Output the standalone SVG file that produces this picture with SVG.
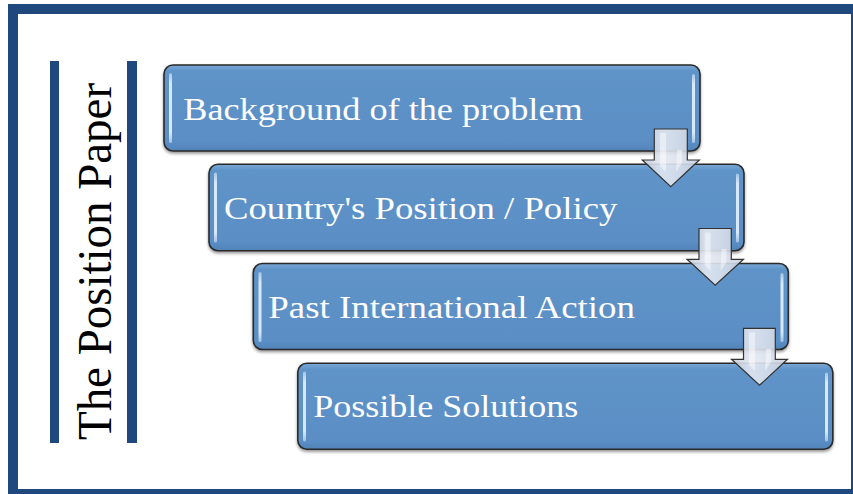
<svg xmlns="http://www.w3.org/2000/svg" width="853" height="494" viewBox="0 0 853 494">
  <defs>
    <style>
      .frame { fill: none; stroke: #1f497d; stroke-width: 10; }
      .bar { fill: #1f497d; }
      .title { font-family: "Liberation Serif", "DejaVu Serif", serif; font-size: 48px; fill: #000000; }
      .box { fill: url(#boxFill); stroke: #2a2a2a; stroke-width: 1.6; filter: url(#shadow); }
      .gloss { fill: url(#glossFill); }
      .label { font-family: "Liberation Serif", "DejaVu Serif", serif; font-size: 32px; fill: #ffffff; }
      .arrow { fill: url(#arrowFill); fill-opacity: 0.9; stroke: #333333; stroke-width: 1.2; stroke-linejoin: miter; }
      .arrow-shine { fill: #ffffff; fill-opacity: 0.45; }
    </style>
    <linearGradient id="boxFill" x1="0" y1="0" x2="0" y2="1">
      <stop offset="0" stop-color="#7aa8d6"/>
      <stop offset="0.07" stop-color="#5f94c9"/>
      <stop offset="0.9" stop-color="#5a8ec4"/>
      <stop offset="1" stop-color="#5083b9"/>
    </linearGradient>
    <linearGradient id="glossFill" x1="0" y1="0" x2="0" y2="1">
      <stop offset="0" stop-color="#e8f2fc" stop-opacity="0.5"/>
      <stop offset="0.15" stop-color="#d6e8fa"/>
      <stop offset="0.85" stop-color="#d6e8fa"/>
      <stop offset="1" stop-color="#e8f2fc" stop-opacity="0.5"/>
    </linearGradient>
    <linearGradient id="arrowFill" x1="0" y1="0" x2="1" y2="0">
      <stop offset="0" stop-color="#c3ccdc"/>
      <stop offset="0.35" stop-color="#e3e8f1"/>
      <stop offset="0.55" stop-color="#dde3ee"/>
      <stop offset="1" stop-color="#c7d0df"/>
    </linearGradient>
    <filter id="shadow" x="-5%" y="-10%" width="110%" height="125%">
      <feDropShadow dx="0" dy="2" stdDeviation="1.8" flood-color="#000000" flood-opacity="0.4"/>
    </filter>
  </defs>

  <!-- page frame -->
  <rect class="frame" x="13" y="9" width="843" height="485"/>

  <!-- vertical title between two rules -->
  <g id="title">
    <rect class="bar" x="50" y="61" width="9" height="382"/>
    <rect class="bar" x="127" y="61" width="10" height="382"/>
    <text class="title" transform="translate(111,440) rotate(-90)" x="0" y="0" textLength="357" lengthAdjust="spacingAndGlyphs">The Position Paper</text>
  </g>

  <!-- step boxes -->
  <g id="step1">
    <rect class="box" x="164" y="65" width="536" height="86" rx="9" ry="9"/>
    <rect class="gloss" x="169" y="73" width="3" height="70" rx="1.5"/>
    <rect class="gloss" x="692" y="74" width="3" height="69" rx="1.5"/>
    <text class="label" x="183.3" y="119.5" textLength="399.4" lengthAdjust="spacingAndGlyphs">Background of the problem</text>
  </g>
  <g id="step2">
    <rect class="box" x="209" y="164.3" width="535" height="86.5" rx="9" ry="9"/>
    <rect class="gloss" x="214" y="172.5" width="3" height="70" rx="1.5"/>
    <rect class="gloss" x="736" y="173.5" width="3" height="69" rx="1.5"/>
    <text class="label" x="224" y="218.5" textLength="393.3" lengthAdjust="spacingAndGlyphs">Country's Position / Policy</text>
  </g>
  <g id="step3">
    <rect class="box" x="253.3" y="263.5" width="535" height="86" rx="9" ry="9"/>
    <rect class="gloss" x="258.5" y="272" width="3" height="70" rx="1.5"/>
    <rect class="gloss" x="780.5" y="273" width="3" height="69" rx="1.5"/>
    <text class="label" x="268.3" y="318.3" textLength="366.7" lengthAdjust="spacingAndGlyphs">Past International Action</text>
  </g>
  <g id="step4">
    <rect class="box" x="297.8" y="363.3" width="535" height="86" rx="9" ry="9"/>
    <rect class="gloss" x="303" y="371.5" width="3" height="70" rx="1.5"/>
    <rect class="gloss" x="825" y="372.5" width="3" height="69" rx="1.5"/>
    <text class="label" x="313.3" y="417" textLength="265" lengthAdjust="spacingAndGlyphs">Possible Solutions</text>
  </g>

  <!-- down arrows linking the steps -->
  <g id="connectors">
    <g id="arrow1">
      <path class="arrow" d="M654.3,129 H687.3 V160 H699.3 L670.8,186.7 L642.3,160 H654.3 Z"/>
      <path class="arrow-shine" d="M660,133 H666 V172 L660,166 Z"/>
      <path class="arrow-shine" d="M677,150 H682 V163 L676,172 Z" fill-opacity="0.3"/>
    </g>
    <g id="arrow2">
      <path class="arrow" d="M699,228.5 H731.3 V259.3 H743.5 L715.2,285.3 L687,259.3 H699 Z"/>
      <path class="arrow-shine" d="M704.7,232.5 H710.7 V271 L704.7,265 Z"/>
      <path class="arrow-shine" d="M721.5,249 H726.5 V262 L720.5,271 Z" fill-opacity="0.3"/>
    </g>
    <g id="arrow3">
      <path class="arrow" d="M743.5,328.3 H775.3 V359.3 H787.5 L759.5,385.3 L731.5,359.3 H743.5 Z"/>
      <path class="arrow-shine" d="M749,332.5 H755 V371 L749,365 Z"/>
      <path class="arrow-shine" d="M766,349 H771 V362 L765,371 Z" fill-opacity="0.3"/>
    </g>
  </g>
</svg>
